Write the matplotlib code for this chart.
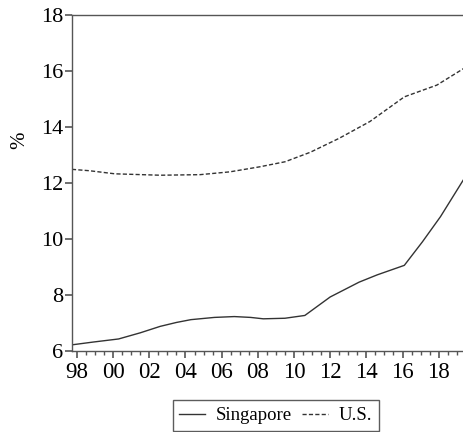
import matplotlib
matplotlib.use("Agg")
import matplotlib.pyplot as plt
from matplotlib.ticker import MultipleLocator, FixedLocator

# values (x in fractional years)
sg_years = [1997.72, 1998.9, 2000.3, 2001.5, 2002.6, 2003.5, 2004.3, 2005.6, 2006.7,
            2007.6, 2008.3, 2009.5, 2010.6, 2012.0, 2013.6, 2014.6, 2016.1, 2017.1,
            2018.1, 2019.4]
sg_values = [6.22, 6.32, 6.43, 6.65, 6.88, 7.02, 7.12, 7.20, 7.23,
             7.20, 7.15, 7.17, 7.27, 7.93, 8.46, 8.72, 9.06, 9.90,
             10.80, 12.15]

us_years = [1997.72, 1998.7, 2000.1, 2002.6, 2004.8, 2006.45, 2008.1, 2009.5, 2010.9,
            2012.5, 2014.2, 2016.1, 2017.9, 2019.4]
us_values = [12.49, 12.44, 12.33, 12.28, 12.30, 12.40, 12.58, 12.76, 13.10,
             13.60, 14.20, 15.08, 15.50, 16.10]

tick_years = list(range(1998, 2020, 2))
tick_labels = ['98', '00', '02', '04', '06', '08', '10', '12', '14', '16', '18']

plt.rcParams['font.family'] = ['Liberation Serif', 'DejaVu Serif']

fig = plt.figure(figsize=(4.64, 4.32), dpi=100)
ax = fig.add_axes([0.155, 0.1875, 0.845, 0.7775])

line_col = '#333333'
ax.plot(sg_years, sg_values, color=line_col, lw=1.0, label='Singapore')
ax.plot(us_years, us_values, color=line_col, lw=1.0, dashes=(3, 1.6), label='U.S.')

ax.set_xlim(1997.72, 2019.4)
ax.set_ylim(6, 18)
ax.set_yticks([6, 8, 10, 12, 14, 16, 18])
ax.xaxis.set_major_locator(FixedLocator(tick_years))
ax.set_xticklabels(tick_labels)
ax.xaxis.set_minor_locator(MultipleLocator(0.5))

for s in ['left', 'bottom', 'top']:
    ax.spines[s].set_color('#555555')
    ax.spines[s].set_linewidth(1.0)
ax.spines['right'].set_visible(False)

ax.tick_params(axis='both', which='major', direction='out', length=5, width=1.2,
               color='#555555')
ax.tick_params(axis='x', which='major', labelsize=16.5, pad=3)
ax.tick_params(axis='y', which='major', labelsize=16, pad=1)
ax.tick_params(axis='x', which='minor', direction='out', length=3, width=1.0, color='#555555')

fig.text(0.042, 1 - 140 / 432, '%', rotation=90, ha='center', va='center', fontsize=15)

leg = fig.legend(loc='lower center', bbox_to_anchor=(0.594, 0.003), ncol=2, fontsize=13.5,
                 frameon=True, fancybox=False, edgecolor='#333333', handlelength=1.4,
                 handletextpad=0.55, columnspacing=0.55, borderpad=0.35, borderaxespad=0)
leg.get_frame().set_linewidth(1.0)

fig.savefig('out.png', dpi=100)
